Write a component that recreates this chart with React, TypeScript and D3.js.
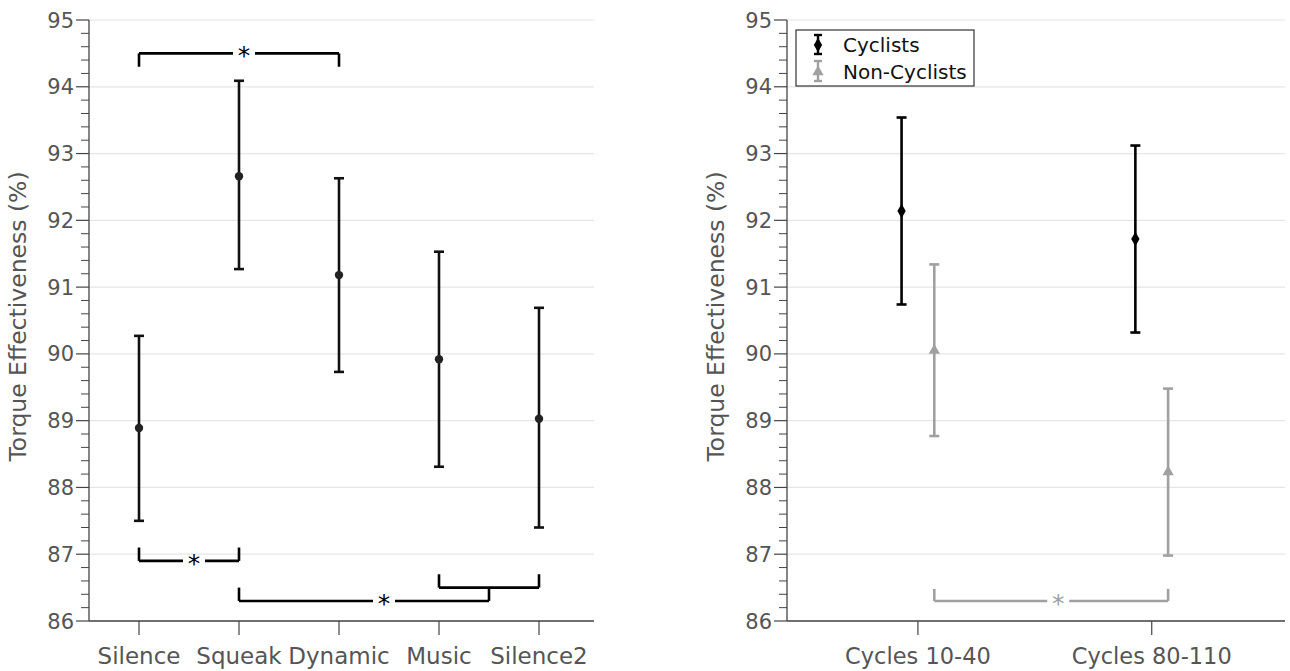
import React from "react";
import * as d3 from "d3";

// ---- data ----
const conditions = ["Silence", "Squeak", "Dynamic", "Music", "Silence2"];
const condMean = [88.89, 92.66, 91.18, 89.92, 89.03];
const condLower = [87.5, 91.27, 89.73, 88.31, 87.4];
const condUpper = [90.27, 94.09, 92.63, 91.53, 90.69];

const phases = ["Cycles 10-40", "Cycles 80-110"];
const cycMean = [92.14, 91.72];
const cycLower = [90.74, 90.32];
const cycUpper = [93.54, 93.12];
const nonMean = [90.05, 88.23];
const nonLower = [88.77, 86.98];
const nonUpper = [91.34, 89.48];

const yTicks = [86, 87, 88, 89, 90, 91, 92, 93, 94, 95];
const yLabel = "Torque Effectiveness (%)";
const legendLabels = ["Cyclists", "Non-Cyclists"];

// significance brackets (category index units), legs point toward `leg`
const leftBrackets = [
  { from: 0, to: 2, y: 94.5, leg: 94.3, star: 1.05 },
  { from: 0, to: 1, y: 86.9, leg: 87.1, star: 0.55 },
  { from: 3, to: 4, y: 86.5, leg: 86.7, star: null },
  { from: 1, to: 3.5, y: 86.3, leg: 86.5, star: 2.45 },
];
const rightBrackets = [{ from: 1.07, to: 2.07, y: 86.3, leg: 86.48, star: 1.6 }];

// ---- layout ----
const W = 1290;
const H = 671;
const TOP = 20;
const BOTTOM = 621;
const TXT = "#555";
const AXIS = "#444";
const GRID = "#e6e6e6";
const GREY = "#a0a0a0";
const FONT = "DejaVu Sans, sans-serif";

const yScale = d3.scaleLinear().domain([86, 95]).range([BOTTOM, TOP]);
const xLeft = d3.scaleLinear().domain([-0.5, 4.5]).range([89, 589]);
const xRight = d3.scaleLinear().domain([0.44, 2.57]).range([787, 1285]);
const OFF = 0.07;

const minorTicks = d3.range(86, 95.001, 0.2).filter((v) => Math.abs(v - Math.round(v)) > 0.01);

function YAxis({ x0, x1, labelX }: { x0: number; x1: number; labelX: number }) {
  return (
    <g>
      {yTicks.map((t) => (
        <line key={"g" + t} x1={x0} x2={x1} y1={yScale(t)} y2={yScale(t)} stroke={GRID} strokeWidth={1.2} />
      ))}
      {yTicks.map((t) => (
        <g key={"t" + t}>
          <line x1={x0 - 13} x2={x0} y1={yScale(t)} y2={yScale(t)} stroke={AXIS} strokeWidth={1.2} />
          <text x={x0 - 15} y={yScale(t)} dy="0.36em" textAnchor="end" fill={TXT} fontSize={21} fontFamily={FONT}>
            {t}
          </text>
        </g>
      ))}
      {minorTicks.map((t) => (
        <line key={"m" + t} x1={x0 - 8} x2={x0} y1={yScale(t)} y2={yScale(t)} stroke={AXIS} strokeWidth={1} />
      ))}
      <line x1={x0} x2={x0} y1={TOP} y2={BOTTOM} stroke={AXIS} strokeWidth={1.3} />
      <line x1={x0} x2={x1} y1={BOTTOM} y2={BOTTOM} stroke={AXIS} strokeWidth={1.3} />
      <text
        transform={`translate(${labelX},${(TOP + BOTTOM) / 2 - 4}) rotate(-90)`}
        textAnchor="middle"
        fill={TXT}
        fontSize={23.5}
        fontFamily={FONT}
      >
        {yLabel}
      </text>
    </g>
  );
}

function ErrBar({ x, lo, hi, color, cap = 5 }: { x: number; lo: number; hi: number; color: string; cap?: number }) {
  return (
    <g stroke={color} strokeWidth={2.6}>
      <line x1={x} x2={x} y1={yScale(lo)} y2={yScale(hi)} />
      <line x1={x - cap} x2={x + cap} y1={yScale(lo)} y2={yScale(lo)} />
      <line x1={x - cap} x2={x + cap} y1={yScale(hi)} y2={yScale(hi)} />
    </g>
  );
}

const diamond = d3.symbol().type(d3.symbolDiamond).size(60)();
const triangle = d3.symbol().type(d3.symbolTriangle).size(55)();

function Bracket({ b, xs, color }: { b: any; xs: d3.ScaleLinear<number, number>; color: string }) {
  const xa = xs(b.from);
  const xb = xs(b.to);
  const y = yScale(b.y);
  const yl = yScale(b.leg);
  const sx = b.star == null ? null : xs(b.star);
  const gap = 11;
  return (
    <g stroke={color} strokeWidth={2.6} fill="none">
      <line x1={xa} x2={xa} y1={yl} y2={y} />
      <line x1={xb} x2={xb} y1={yl} y2={y} />
      {sx == null ? (
        <line x1={xa} x2={xb} y1={y} y2={y} />
      ) : (
        <>
          <line x1={xa} x2={sx - gap} y1={y} y2={y} />
          <line x1={sx + gap} x2={xb} y1={y} y2={y} />
          <text x={sx} y={y + 11} textAnchor="middle" fill={color} stroke="none" fontSize={25} fontFamily={FONT}>
            *
          </text>
        </>
      )}
    </g>
  );
}

export default function App() {
  return (
    <svg width={W} height={H} style={{ position: "absolute", left: 0, top: 0, background: "#fff" }}>
      {/* left panel */}
      <YAxis x0={89} x1={594} labelX={26} />
      {conditions.map((c, i) => (
        <g key={c}>
          <line x1={xLeft(i)} x2={xLeft(i)} y1={BOTTOM} y2={BOTTOM + 14} stroke={AXIS} strokeWidth={1.2} />
          <text x={xLeft(i)} y={BOTTOM + 43} textAnchor="middle" fill={TXT} fontSize={23} fontFamily={FONT}>
            {c}
          </text>
        </g>
      ))}
      {conditions.map((c, i) => (
        <g key={"e" + c}>
          <ErrBar x={xLeft(i)} lo={condLower[i]} hi={condUpper[i]} color="#111" />
          <circle cx={xLeft(i)} cy={yScale(condMean[i])} r={4.2} fill="#222" />
        </g>
      ))}
      {leftBrackets.map((b, i) => (
        <Bracket key={"lb" + i} b={b} xs={xLeft} color="#000" />
      ))}

      {/* right panel */}
      <YAxis x0={787} x1={1285} labelX={724} />
      {phases.map((p, i) => (
        <g key={p}>
          <line x1={xRight(i + 1)} x2={xRight(i + 1)} y1={BOTTOM} y2={BOTTOM + 14} stroke={AXIS} strokeWidth={1.2} />
          <text x={xRight(i + 1)} y={BOTTOM + 43} textAnchor="middle" fill={TXT} fontSize={22.5} fontFamily={FONT}>
            {p}
          </text>
        </g>
      ))}
      {phases.map((p, i) => (
        <g key={"c" + p}>
          <ErrBar x={xRight(i + 1 - OFF)} lo={cycLower[i]} hi={cycUpper[i]} color="#000" />
          <path d={diamond ?? ""} transform={`translate(${xRight(i + 1 - OFF)},${yScale(cycMean[i])})`} fill="#000" />
          <ErrBar x={xRight(i + 1 + OFF)} lo={nonLower[i]} hi={nonUpper[i]} color={GREY} />
          <path d={triangle ?? ""} transform={`translate(${xRight(i + 1 + OFF)},${yScale(nonMean[i])})`} fill={GREY} />
        </g>
      ))}
      {rightBrackets.map((b, i) => (
        <Bracket key={"rb" + i} b={b} xs={xRight} color={GREY} />
      ))}

      {/* legend */}
      <g>
        <rect x={796} y={30} width={178} height={56} fill="#fff" stroke="#333" strokeWidth={1.2} />
        <g stroke="#000" strokeWidth={2.4}>
          <line x1={818} x2={818} y1={35} y2={54} />
          <line x1={814} x2={822} y1={35} y2={35} />
          <line x1={814} x2={822} y1={54} y2={54} />
        </g>
        <path d={diamond ?? ""} transform="translate(818,45)" fill="#000" />
        <g stroke={GREY} strokeWidth={2.4}>
          <line x1={818} x2={818} y1={61} y2={81} />
          <line x1={814} x2={822} y1={61} y2={61} />
          <line x1={814} x2={822} y1={81} y2={81} />
        </g>
        <path d={triangle ?? ""} transform="translate(818,72)" fill={GREY} />
        {legendLabels.map((l, i) => (
          <text key={l} x={843} y={45 + i * 27} dy="0.36em" fill="#111" fontSize={20} fontFamily={FONT}>
            {l}
          </text>
        ))}
      </g>
    </svg>
  );
}
